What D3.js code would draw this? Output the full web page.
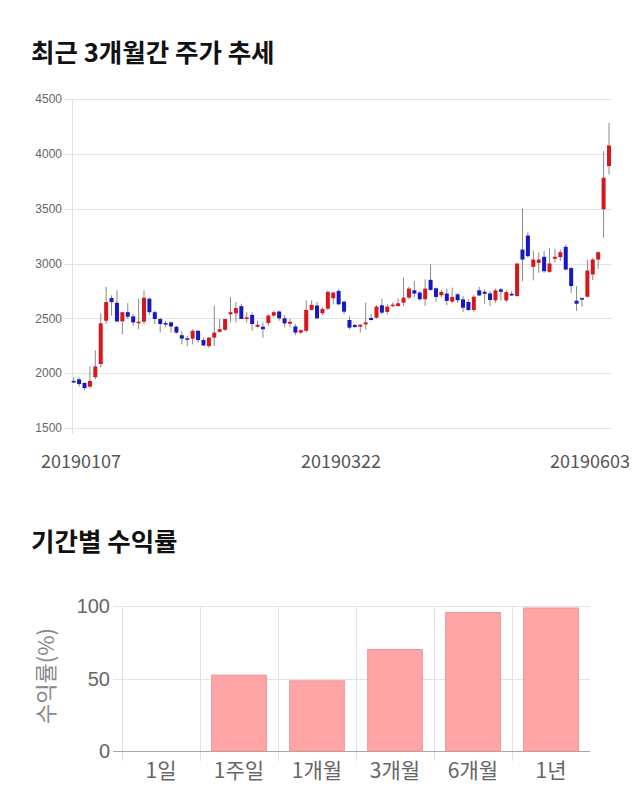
<!DOCTYPE html>
<html><head><meta charset="utf-8">
<script src="https://cdn.jsdelivr.net/npm/d3@7"></script>
<style>
html,body{margin:0;padding:0;background:#fff;}
svg{display:block;font-family:"Noto Sans CJK KR","Noto Sans",sans-serif;}
</style></head>
<body><svg id="c" width="640" height="810"></svg>
<script>
// ---- data: candlestick (20190107 ~ 20190603) ----
const opens  = [1929,1944,1911,1877,1963,2083,2478,2685,2642,2472,2556,2518,2457,2469,2679,2556,2494,2457,2463,2423,
                2346,2318,2315,2386,2302,2247,2324,2377,2395,2537,2546,2611,2494,2531,2423,2423,2457,2525,2562,2500,
                2451,2426,2370,2386,2577,2617,2546,2588,2683,2750,2652,2485,2439,2424,2445,2503,2506,2619,2558,2613,
                2613,2643,2689,2756,2735,2674,2851,2774,2710,2726,2652,2719,2673,2649,2576,2755,2742,2727,2664,2764,
                2664,2724,2703,3127,3255,2970,3006,3061,2924,3043,3058,3152,2958,2661,2685,2697,2900,3036,3494,3888];
const highs  = [1960,1963,1915,2062,2207,2546,2787,2710,2756,2560,2639,2540,2679,2756,2690,2570,2509,2478,2470,2430,
                2386,2340,2401,2395,2324,2330,2617,2494,2494,2694,2648,2633,2556,2556,2478,2463,2540,2571,2570,2531,
                2494,2448,2400,2664,2664,2648,2600,2755,2741,2765,2660,2521,2450,2445,2643,2540,2620,2680,2630,2643,
                2680,2872,2790,2841,2750,2857,2994,2780,2760,2771,2780,2730,2703,2673,2710,2788,2764,2748,2770,2779,
                2755,2748,3000,3500,3285,3118,3100,3115,3142,3133,3127,3173,2970,2794,2688,3036,3051,3112,4024,4282];
const lows   = [1910,1877,1846,1861,1944,2052,2448,2525,2463,2355,2494,2432,2401,2448,2530,2448,2370,2417,2370,2360,
                2262,2247,2262,2278,2247,2231,2247,2370,2386,2463,2463,2494,2463,2386,2417,2324,2432,2509,2478,2417,
                2417,2346,2355,2370,2571,2494,2530,2575,2628,2620,2537,2400,2410,2369,2399,2480,2497,2537,2537,2600,
                2605,2613,2674,2689,2659,2613,2750,2652,2690,2619,2640,2640,2558,2567,2558,2703,2633,2612,2640,2661,
                2649,2703,2697,2839,3052,2846,2915,2915,2915,3012,3024,2940,2733,2567,2606,2688,2848,2952,3236,3812];
const closes = [1917,1901,1864,1929,2062,2454,2648,2648,2472,2556,2515,2463,2469,2688,2556,2494,2448,2444,2426,2370,
                2315,2315,2386,2302,2253,2324,2370,2401,2494,2556,2593,2494,2509,2448,2441,2401,2525,2556,2500,2454,
                2469,2370,2392,2577,2623,2500,2586,2741,2735,2628,2561,2415,2421,2442,2463,2485,2607,2552,2607,2625,
                2637,2689,2771,2726,2674,2771,2759,2695,2741,2659,2695,2665,2597,2576,2697,2709,2724,2667,2755,2742,
                2739,2709,3000,3036,3067,3036,3036,2930,3000,3061,3103,2945,2794,2633,2673,2936,3036,3103,3782,4076];
const dateLabels = [{i:0,t:"20190107"},{i:50,t:"20190322"},{i:99,t:"20190603"}];
const priceTicks = [1500,2000,2500,3000,3500,4000,4500];

// ---- data: period returns ----
const periods = ["1일","1주일","1개월","3개월","6개월","1년"];
const returns = [0,52.3,48.4,70,95.5,98.6];
const returnTicks = [0,50,100];

const svg = d3.select("#c");
const RED="#d9161c", BLUE="#1717c4";

// titles
svg.append("text").attr("x",31).attr("y",62).attr("font-size",25.5).attr("font-weight","bold").attr("fill","#111").text("최근 3개월간 주가 추세");
svg.append("text").attr("x",31).attr("y",551).attr("font-size",25.5).attr("font-weight","bold").attr("fill","#111").text("기간별 수익률");

// ---- candlestick chart ----
const n = opens.length;
const idx = d3.range(n);
const x = d3.scalePoint().domain(idx).range([73.7,609]);
const y = d3.scaleLinear().domain([1500,4500]).range([428,99]);
const g1 = svg.append("g");

g1.selectAll("line.grid").data(priceTicks).join("line")
  .attr("x1",64).attr("x2",612).attr("y1",d=>Math.round(y(d))+0.5).attr("y2",d=>Math.round(y(d))+0.5)
  .attr("stroke","#e3e3e3").attr("stroke-width",1);
g1.append("line").attr("x1",72.5).attr("x2",72.5).attr("y1",y(4500)).attr("y2",y(1500)+6).attr("stroke","#e3e3e3");
g1.selectAll("text.yt").data(priceTicks).join("text")
  .attr("x",62).attr("y",d=>y(d)).attr("dy","0.35em").attr("text-anchor","end")
  .attr("font-size",12).attr("font-family","Liberation Sans, Arial, sans-serif").attr("fill","#666").text(d=>d);

g1.selectAll("line.wick").data(idx).join("line")
  .attr("x1",i=>x(i)).attr("x2",i=>x(i)).attr("y1",i=>y(highs[i])).attr("y2",i=>y(lows[i]))
  .attr("stroke","#8a8a8a").attr("stroke-width",1);
g1.selectAll("rect.body").data(idx).join("rect")
  .attr("x",i=>x(i)-2).attr("width",4)
  .attr("y",i=>y(Math.max(opens[i],closes[i])))
  .attr("height",i=>Math.max(1.5,Math.abs(y(opens[i])-y(closes[i]))))
  .attr("fill",i=>closes[i]>=opens[i]?RED:BLUE);

const dl = g1.selectAll("text.xl").data(dateLabels).join("text")
  .attr("y",462).attr("dy","0.35em").attr("text-anchor","middle")
  .attr("font-size",18).attr("fill","#555").text(d=>d.t);
dl.attr("x",function(d){const w=this.getComputedTextLength();return Math.max(41+w/2,Math.min(630-w/2,x(d.i)-3));});

// ---- returns bar chart ----
const xb = d3.scaleBand().domain(periods).range([122,590]).paddingInner(0.3).paddingOuter(0.15);
const yb = d3.scaleLinear().domain([0,100]).range([751,606]);
const g2 = svg.append("g");
const step = xb.step();
const bounds = d3.range(periods.length).map(k=>122+k*step);
g2.selectAll("line.vg").data(bounds).join("line")
  .attr("x1",d=>Math.round(d)+0.5).attr("x2",d=>Math.round(d)+0.5).attr("y1",yb(100)).attr("y2",yb(0)+10)
  .attr("stroke","#e3e3e3");
g2.selectAll("line.hg").data(returnTicks).join("line")
  .attr("x1",113).attr("x2",590).attr("y1",d=>Math.round(yb(d))+0.5).attr("y2",d=>Math.round(yb(d))+0.5)
  .attr("stroke",d=>d===0?"#a8a8a8":"#e3e3e3");
g2.selectAll("text.yt").data(returnTicks).join("text")
  .attr("x",110).attr("y",d=>yb(d)).attr("dy","0.35em").attr("text-anchor","end")
  .attr("font-size",20).attr("font-family","Liberation Sans, Arial, sans-serif").attr("fill","#666").text(d=>d);
g2.selectAll("rect.bar").data(periods).join("rect")
  .attr("x",d=>xb(d)).attr("width",xb.bandwidth())
  .attr("y",(d,k)=>yb(returns[k])).attr("height",(d,k)=>yb(0)-yb(returns[k]))
  .attr("fill","#ffa5a5").attr("stroke","#f09090").attr("stroke-width",1);
g2.selectAll("text.xt").data(periods).join("text")
  .attr("x",d=>xb(d)+xb.bandwidth()/2).attr("y",771).attr("dy","0.35em").attr("text-anchor","middle")
  .attr("font-size",21).attr("fill","#666").text(d=>d);
svg.append("text").attr("transform","translate(46,676) rotate(-90)").attr("text-anchor","middle")
  .attr("dy","0.35em").attr("font-size",22).attr("fill","#888").text("수익률(%)");
</script></body></html>
